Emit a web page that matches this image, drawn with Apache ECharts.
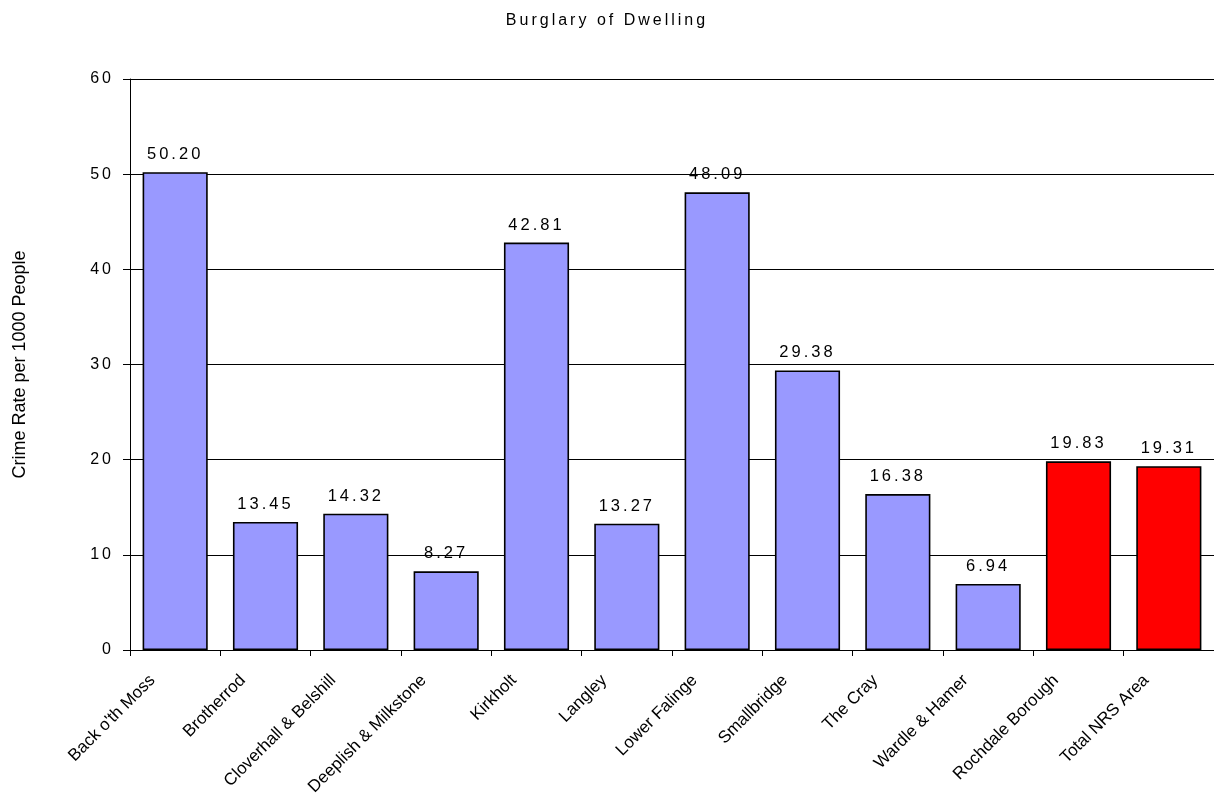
<!DOCTYPE html>
<html><head><meta charset="utf-8">
<script src="https://cdn.jsdelivr.net/npm/echarts@6/dist/echarts.min.js"></script>
<style>html,body{margin:0;padding:0;background:#fff}#c{width:1214px;height:799px}</style>
</head><body><div id="c"></div>
<script>
const categories = ["Back o'th Moss","Brotherrod","Cloverhall & Belshill","Deeplish & Milkstone","Kirkholt","Langley","Lower Falinge","Smallbridge","The Cray","Wardle & Hamer","Rochdale Borough","Total NRS Area"];
const values = [50.20,13.45,14.32,8.27,42.81,13.27,48.09,29.38,16.38,6.94,19.83,19.31];
const highlighted = [false,false,false,false,false,false,false,false,false,false,true,true];
const yTicks = {min:0,max:60,interval:10};
const titleText = "Burglary of Dwelling";
const yName = "Crime Rate per 1000 People";

// letter spacing (as in the reference rendering) keyed by font size
const SPACING = {'16':3,'16.5':3};
(function(){
  const P = CanvasRenderingContext2D.prototype;
  const orig = P.fillText;
  P.fillText = function(){
    const m = /(\d+(?:\.\d+)?)px/.exec(this.font);
    const s = m && SPACING[m[1]];
    const prev = this.letterSpacing;
    this.letterSpacing = s ? s + 'px' : '0px';
    const r = orig.apply(this, arguments);
    this.letterSpacing = prev;
    return r;
  };
})();

const font = "'Liberation Sans', Arial, sans-serif";
const chart = echarts.init(document.getElementById('c'), null, {renderer:'canvas'});
chart.setOption({
  animation:false,
  backgroundColor:'#fff',
  title:{text:titleText,left:'center',top:13,padding:[0,0,0,12],
    textStyle:{fontFamily:font,fontSize:16,fontWeight:'normal',color:'#000'}},
  grid:{left:130,top:79,width:1093,height:571,containLabel:false},
  xAxis:{type:'category',data:categories,
    axisLine:{lineStyle:{color:'#000',width:1}},
    axisTick:{show:true,alignWithLabel:false,length:6,lineStyle:{color:'#000'}},
    axisLabel:{rotate:45,interval:0,fontFamily:font,fontSize:17,color:'#000',margin:5,padding:[0,32,0,0]}},
  yAxis:{type:'value',min:yTicks.min,max:yTicks.max,interval:yTicks.interval,
    name:yName,nameLocation:'middle',nameGap:101,nameRotate:90,
    nameTextStyle:{fontFamily:font,fontSize:18,color:'#000'},
    axisLine:{show:true,lineStyle:{color:'#000'}},
    axisTick:{show:true,length:7,lineStyle:{color:'#000'}},
    splitLine:{lineStyle:{color:'#000',width:1}},
    axisLabel:{fontFamily:font,fontSize:16,color:'#000',margin:16}},
  series:[{type:'bar',
    data:values.map((v,i)=>({value:v,itemStyle:{color:highlighted[i]?'#FF0000':'#9999FF'}})),
    barCategoryGap:'27.9%',
    itemStyle:{borderColor:'#000',borderWidth:1.6},
    label:{show:true,position:'top',distance:9,formatter:p=>p.value.toFixed(2),fontFamily:font,fontSize:16.5,color:'#000'}}]
});
</script></body></html>
